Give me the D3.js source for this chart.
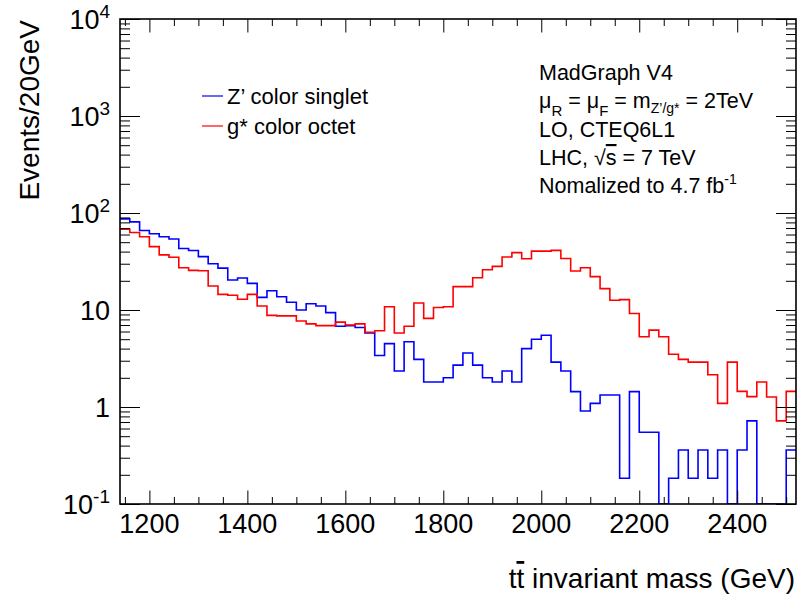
<!DOCTYPE html>
<html>
<head>
<meta charset="utf-8">
<script src="https://cdn.jsdelivr.net/npm/d3@7"></script>
<style>
body { margin: 0; background: #fff; }
svg { display: block; font-family: "Liberation Sans", Arial, Helvetica, sans-serif; }
</style>
</head>
<body>
<svg id="chart"></svg>
<script>
// binning of both histograms (GeV)
var binLow = 1140;
var binWidth = 20;
var xDomain = [1140, 2520];
var yDomain = [0.1, 10000];

// Events/20GeV, one value per bin
var zprimeValues = [
    87, 81, 66, 61, 57, 54, 43, 41, 35.5, 30,
    27, 20.4, 21.4, 18.8, 13.5, 15.8, 13.7, 12, 10, 11.6,
    11, 9.4, 6.8, 6.9, 6.6, 5.8, 3.4, 4.5, 2.35, 4.7,
    3.1, 1.81, 1.81, 2.0, 2.7, 3.6, 2.7, 2.0, 1.81, 2.35,
    1.81, 4.0, 5.0, 5.5, 2.9, 2.35, 1.44, 0.91, 1.09, 1.33,
    1.33, 0.184, 1.44, 0.55, 0.55, 0, 0.184, 0.36, 0.184, 0.36,
    0.184, 0.36, 0, 0.36, 0.72, 0, 0, 0, 0.36
];
var gstarValues = [
    68, 63, 57, 45, 37, 35, 27.3, 25.6, 25.4, 17.7,
    14.5, 14.2, 12.9, 14.5, 11, 8.8, 8.7, 8.7, 7.7, 7.2,
    6.9, 6.9, 7.5, 7.0, 7.2, 5.9, 6.1, 10.8, 5.8, 6.8,
    11.8, 8.2, 10.6, 10.8, 17.4, 17.4, 21.5, 26, 28.2, 35.2,
    39, 33.8, 40.5, 40.5, 41.2, 34, 25.2, 27.3, 22.1, 16.6,
    12.6, 12.8, 9.2, 5.3, 6.2, 5.3, 3.5, 3.1, 2.9, 2.9,
    2.15, 1.09, 2.9, 1.45, 1.28, 1.81, 1.27, 0.72, 1.45
];

var seriesNames = ["Z\u2019 color singlet", "g* color octet"];
var seriesColors = ["#0000ff", "#ff0000"];

var xTickValues = [1200, 1400, 1600, 1800, 2000, 2200, 2400];
var xMinorStep = 50;
var yTickValues = [0.1, 1, 10, 100, 1000, 10000];
var yTickBase = ["10", "1", "10", "10", "10", "10"];
var yTickExp = ["-1", "", "", "2", "3", "4"];

var params = {
    width: 800,
    height: 598,
    left: 120,
    right: 796,
    top: 19,
    bottom: 504,
    fontSize: 27,
    lineWidth: 1.6
};

var svg = d3.select("#chart")
    .attr("width", params.width)
    .attr("height", params.height);

var x = d3.scaleLinear().domain(xDomain).range([params.left, params.right]);
var y = d3.scaleLog().domain(yDomain).range([params.bottom, params.top]);

// ---- histograms
svg.append("clipPath").attr("id", "plotClip")
    .append("rect")
    .attr("x", params.left).attr("y", params.top - 2)
    .attr("width", params.right - params.left)
    .attr("height", params.bottom - params.top + 2);

function stepPoints(values) {
    var pts = values.map(function(v, i) { return [binLow + i * binWidth, v]; });
    pts.push([binLow + values.length * binWidth, values[values.length - 1]]);
    return pts;
}

var histLine = d3.line()
    .x(function(d) { return x(d[0]); })
    .y(function(d) { return y(Math.max(d[1], yDomain[0])); })
    .curve(d3.curveStepAfter);

var dataGroup = svg.append("g").attr("clip-path", "url(#plotClip)");
[zprimeValues, gstarValues].forEach(function(vals, i) {
    dataGroup.append("path")
        .attr("d", histLine(stepPoints(vals)))
        .attr("fill", "none")
        .attr("stroke", seriesColors[i])
        .attr("stroke-width", params.lineWidth);
});

// ---- axes (ticks inside the frame on all four sides)
var xMinor = d3.range(xDomain[0] + 10, xDomain[1], xMinorStep)
    .filter(function(v) { return xTickValues.indexOf(v) < 0; });
var yMinor = [];
for (var k = -1; k < 4; ++k) {
    for (var m = 2; m < 10; ++m) yMinor.push(m * Math.pow(10, k));
}

function addAxis(axisFn, scale, values, size, transform) {
    var g = svg.append("g")
        .attr("transform", transform)
        .call(axisFn(scale).tickValues(values).tickSize(size).tickFormat(""));
    g.select(".domain").remove();
    g.selectAll("line").attr("stroke", "#000").attr("stroke-width", 1);
    return g;
}

addAxis(d3.axisBottom, x, xTickValues, -13.5, "translate(0," + params.bottom + ")");
addAxis(d3.axisBottom, x, xMinor, -7, "translate(0," + params.bottom + ")");
addAxis(d3.axisTop, x, xTickValues, -13.5, "translate(0," + params.top + ")");
addAxis(d3.axisTop, x, xMinor, -7, "translate(0," + params.top + ")");
addAxis(d3.axisLeft, y, yTickValues, -20, "translate(" + params.left + ",0)");
addAxis(d3.axisLeft, y, yMinor, -10, "translate(" + params.left + ",0)");
addAxis(d3.axisRight, y, yTickValues, -20, "translate(" + params.right + ",0)");
addAxis(d3.axisRight, y, yMinor, -10, "translate(" + params.right + ",0)");

svg.append("rect")
    .attr("x", params.left).attr("y", params.top)
    .attr("width", params.right - params.left)
    .attr("height", params.bottom - params.top)
    .attr("fill", "none")
    .attr("stroke", "#000")
    .attr("stroke-width", 1.6);

// ---- tick labels
svg.append("g").selectAll("text").data(xTickValues).enter()
    .append("text")
    .attr("x", function(d) { return x(d); })
    .attr("y", 533)
    .attr("text-anchor", "middle")
    .attr("font-size", params.fontSize)
    .text(function(d) { return d; });

var yLabels = svg.append("g").selectAll("text").data(yTickValues).enter()
    .append("text")
    .attr("x", 110)
    .attr("y", function(d) { return y(d) + 9.5; })
    .attr("text-anchor", "end")
    .attr("font-size", params.fontSize);
yLabels.append("tspan").text(function(d, i) { return yTickBase[i]; });
yLabels.append("tspan")
    .attr("font-size", 19)
    .attr("dy", -11)
    .text(function(d, i) { return yTickExp[i]; });

// ---- axis titles
svg.append("text")
    .attr("transform", "translate(39," + 20 + ") rotate(-90)")
    .attr("text-anchor", "end")
    .attr("font-size", 28)
    .text("Events/20GeV");

var xTitle = svg.append("text")
    .attr("x", 795).attr("y", 588)
    .attr("text-anchor", "end")
    .attr("font-size", 28);
xTitle.append("tspan").text("t");
xTitle.append("tspan").style("text-decoration", "overline").text("t");
xTitle.append("tspan").text(" invariant mass (GeV)");

// ---- legend
var legend = svg.append("g").attr("font-size", 22);
seriesNames.forEach(function(name, i) {
    var ly = 96 + i * 30;
    legend.append("line")
        .attr("x1", 202).attr("x2", 223)
        .attr("y1", ly).attr("y2", ly)
        .attr("stroke", seriesColors[i])
        .attr("stroke-width", 1.2);
    legend.append("text")
        .attr("x", 227).attr("y", ly + 8)
        .text(name);
});

// ---- info text
var info = svg.append("g").attr("font-size", 21.5);
info.append("text").attr("x", 539).attr("y", 80).text("MadGraph V4");

var l2 = info.append("text").attr("x", 539).attr("y", 108);
l2.append("tspan").text("\u03bc");
l2.append("tspan").attr("font-size", 15).attr("dy", 8).text("R");
l2.append("tspan").attr("dy", -8).text(" = \u03bc");
l2.append("tspan").attr("font-size", 15).attr("dy", 8).text("F");
l2.append("tspan").attr("dy", -8).text(" = m");
l2.append("tspan").attr("font-size", 14).attr("dy", 5).text("Z\u2019/g*");
l2.append("tspan").attr("dy", -5).text(" = 2TeV");

info.append("text").attr("x", 539).attr("y", 137).text("LO, CTEQ6L1");

var l4 = info.append("text").attr("x", 539).attr("y", 165);
l4.append("tspan").text("LHC, \u221a");
l4.append("tspan").style("text-decoration", "overline").text("s");
l4.append("tspan").text(" = 7 TeV");

var l5 = info.append("text").attr("x", 539).attr("y", 193);
l5.append("tspan").text("Nomalized to 4.7 fb");
l5.append("tspan").attr("font-size", 14).attr("dy", -9).text("-1");
</script>
</body>
</html>
